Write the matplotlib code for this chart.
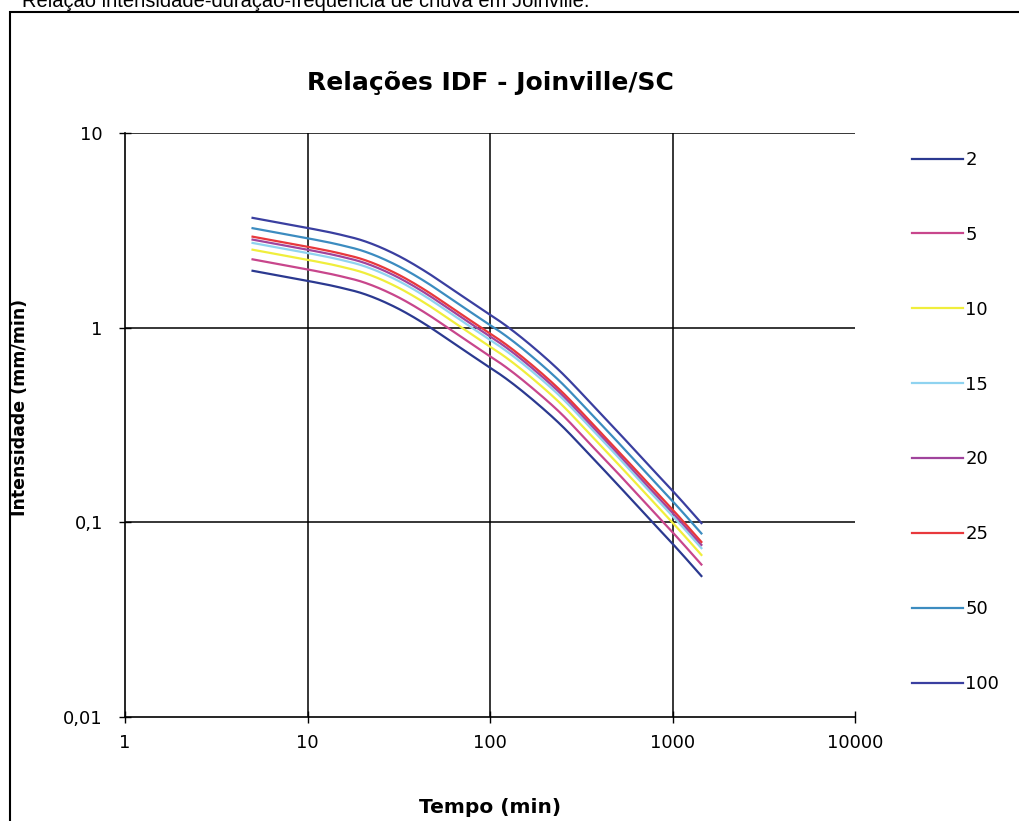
import numpy as np
import matplotlib
matplotlib.use("Agg")
import matplotlib.pyplot as plt
from matplotlib.patches import Rectangle
from matplotlib.ticker import FixedLocator, FixedFormatter

plt.rcParams['font.family'] = ['DejaVu Sans']

# duration (min)
tempo = [5, 10, 15, 20, 30, 45, 60, 90, 120, 180, 240, 360, 480, 720, 1080, 1440]

# intensity (mm/min) per return period
i_2 = [1.96, 1.74, 1.61, 1.50, 1.28, 1.03, 0.86, 0.665, 0.555, 0.41, 0.322, 0.217, 0.163, 0.108, 0.0718, 0.053]
i_5 = [2.244, 1.992, 1.843, 1.718, 1.466, 1.179, 0.985, 0.761, 0.635, 0.469, 0.369, 0.248, 0.187, 0.124, 0.0822, 0.0607]
i_10 = [2.515, 2.232, 2.066, 1.925, 1.642, 1.321, 1.103, 0.853, 0.712, 0.526, 0.413, 0.278, 0.209, 0.139, 0.0921, 0.0680]
i_15 = [2.724, 2.419, 2.238, 2.085, 1.779, 1.432, 1.195, 0.924, 0.771, 0.570, 0.448, 0.302, 0.227, 0.150, 0.0998, 0.0737]
i_20 = [2.834, 2.516, 2.328, 2.169, 1.851, 1.489, 1.244, 0.962, 0.803, 0.593, 0.466, 0.314, 0.236, 0.156, 0.1038, 0.0766]
i_25 = [2.934, 2.605, 2.410, 2.246, 1.916, 1.542, 1.287, 0.996, 0.831, 0.614, 0.482, 0.325, 0.244, 0.162, 0.1075, 0.0793]
i_50 = [3.244, 2.880, 2.665, 2.483, 2.118, 1.705, 1.423, 1.101, 0.919, 0.679, 0.533, 0.359, 0.270, 0.179, 0.1188, 0.0877]
i_100 = [3.665, 3.254, 3.011, 2.805, 2.394, 1.926, 1.608, 1.244, 1.038, 0.767, 0.602, 0.406, 0.305, 0.202, 0.1343, 0.0991]

periodos = ['2', '5', '10', '15', '20', '25', '50', '100']
series = [i_2, i_5, i_10, i_15, i_20, i_25, i_50, i_100]
cores = ['#2b3990', '#c8468c', '#f0ee3c', '#8fd3f0', '#a0449c', '#e8383c', '#3c8cc0', '#3a3fa0']

x_ticks = [1, 10, 100, 1000, 10000]
x_labels = ['1', '10', '100', '1000', '10000']
y_ticks = [0.01, 0.1, 1, 10]
y_labels = ['0,01', '0,1', '1', '10']


def suaviza(x, y, n=20):
    # smoothed line (like Excel's), cubic hermite in log-log space
    lx, ly = np.log10(x), np.log10(y)
    m = np.gradient(ly, lx)
    xs, ys = [], []
    s = np.linspace(0, 1, n, endpoint=False)
    for i in range(len(lx) - 1):
        h = lx[i + 1] - lx[i]
        h00 = 2 * s**3 - 3 * s**2 + 1
        h10 = s**3 - 2 * s**2 + s
        h01 = -2 * s**3 + 3 * s**2
        h11 = s**3 - s**2
        xs.append(lx[i] + s * h)
        ys.append(h00 * ly[i] + h10 * h * m[i] + h01 * ly[i + 1] + h11 * h * m[i + 1])
    xs.append([lx[-1]])
    ys.append([ly[-1]])
    return 10 ** np.concatenate(xs), 10 ** np.concatenate(ys)


fig = plt.figure(figsize=(10.19, 8.21), dpi=100)

# outer frame of the scanned chart
fig.patches.append(Rectangle((10 / 1019, -0.05), 1.1, 1 - 12 / 821 + 0.05,
                             transform=fig.transFigure, fill=False,
                             edgecolor='black', linewidth=1.5))
fig.text(22 / 1019, 1 - 7 / 821, 'Relação intensidade-duração-frequência de chuva em Joinville.',
         fontsize=14.5, ha='left', va='baseline', family='Liberation Sans')

ax = fig.add_axes([125 / 1019, 1 - 717 / 821, 730 / 1019, 584 / 821])
ax.set_xscale('log')
ax.set_yscale('log')
ax.set_xlim(1, 10000)
ax.set_ylim(0.01, 10)

for v in [10, 100, 1000]:
    ax.axvline(v, color='black', linewidth=1.1, zorder=1)
for v in [0.1, 1, 10]:
    ax.axhline(v, color='black', linewidth=1.1, zorder=1)

for lab, vals, c in zip(periodos, series, cores):
    xs, ys = suaviza(tempo, vals)
    ax.plot(xs, ys, color=c, linewidth=1.6, label=lab, zorder=3)

ax.xaxis.set_major_locator(FixedLocator(x_ticks))
ax.xaxis.set_major_formatter(FixedFormatter(x_labels))
ax.yaxis.set_major_locator(FixedLocator(y_ticks))
ax.yaxis.set_major_formatter(FixedFormatter(y_labels))
ax.minorticks_off()
ax.tick_params(direction='inout', length=8, width=1, labelsize=13)
ax.tick_params(axis='x', pad=8)
ax.tick_params(axis='y', pad=12)

ax.spines['top'].set_visible(False)
ax.spines['right'].set_visible(False)
ax.spines['left'].set_linewidth(1.2)
ax.spines['bottom'].set_linewidth(1.2)

ax.set_title('Relações IDF - Joinville/SC', fontsize=18, fontweight='bold', pad=31)
ax.set_xlabel('Tempo (min)', fontsize=14.5, fontweight='bold', labelpad=33)
ax.set_ylabel('Intensidade (mm/min)', fontsize=12.5, fontweight='bold')
ax.yaxis.set_label_coords(-96 / 730, 310 / 584)

fig.legend(loc='center left', bbox_to_anchor=(905 / 1019, 1 - 422 / 821),
           frameon=False, fontsize=13, labelspacing=3.15, handlelength=2.8,
           handletextpad=0.15, borderaxespad=0)

plt.savefig('out.png', dpi=100)
